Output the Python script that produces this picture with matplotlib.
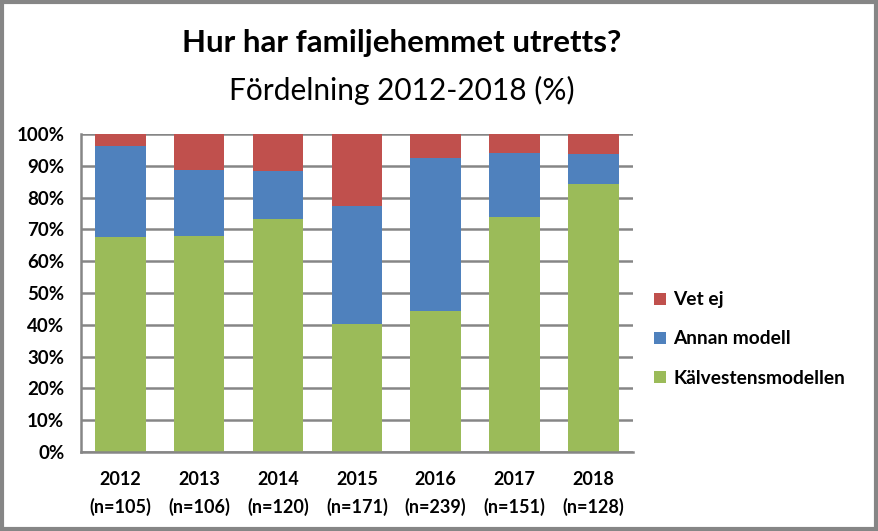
import matplotlib
matplotlib.use("Agg")
import matplotlib.pyplot as plt
from matplotlib.patches import Rectangle
import numpy as np

years = ["2012", "2013", "2014", "2015", "2016", "2017", "2018"]
n_labels = ["(n=105)", "(n=106)", "(n=120)", "(n=171)", "(n=239)", "(n=151)", "(n=128)"]
kalvesten = [67.6, 67.9, 73.2, 40.2, 44.3, 73.9, 84.4]
annan = [28.7, 20.8, 15.2, 37.3, 48.1, 20.1, 9.3]
vetej = [3.7, 11.3, 11.6, 22.5, 7.6, 6.0, 6.3]
yticks = [0, 10, 20, 30, 40, 50, 60, 70, 80, 90, 100]

plt.rcParams['font.family'] = ['Lato', 'DejaVu Sans']

fig = plt.figure(figsize=(8.79, 5.31), dpi=100)
ax = fig.add_axes([81/879, 1-452/531, (632.7-81)/879, (452-134)/531])

x = np.arange(len(years))
green = "#9BBB59"; blue = "#4F81BD"; red = "#C0504D"
w = 0.64
b1 = ax.bar(x, kalvesten, w, color=green, label="Kälvestensmodellen", zorder=2)
b2 = ax.bar(x, annan, w, bottom=kalvesten, color=blue, label="Annan modell", zorder=2)
bottom2 = [a + b for a, b in zip(kalvesten, annan)]
b3 = ax.bar(x, vetej, w, bottom=bottom2, color=red, label="Vet ej", zorder=2)

ax.set_xlim(-0.5, len(years) - 0.5)
ax.set_ylim(0, 100)
ax.set_yticks(yticks)
ax.set_yticklabels([f"{t}%" for t in yticks], fontsize=13.5, fontweight='bold')
ax.yaxis.grid(True, color="#868686", linewidth=1.8, zorder=0)
ax.set_axisbelow(True)
for s in ["top", "right"]:
    ax.spines[s].set_visible(False)
for s in ["left", "bottom"]:
    ax.spines[s].set_color("#868686")
    ax.spines[s].set_linewidth(1.8)
ax.tick_params(axis='y', length=0, pad=12)
ax.set_xticks(x)
ax.set_xticklabels([f"{y}\n{n}" for y, n in zip(years, n_labels)], fontsize=13,
                   fontweight='bold', linespacing=1.6)
ax.tick_params(axis='x', length=0, pad=14)

fig.text(402/879, 1-43/531, "Hur har familjehemmet utretts?", ha='center', va='center',
         fontsize=22.5, fontweight='bold')
fig.text(402/879, 1-90/531, "Fördelning 2012-2018 (%)", ha='center', va='center',
         fontsize=21.5)

leg = ax.legend(handles=[b3, b2, b1], loc='center left', bbox_to_anchor=(637/879, 1-339/531),
                bbox_transform=fig.transFigure, frameon=False,
                prop={'weight': 'bold', 'size': 13.8}, handlelength=0.6, handleheight=0.6,
                handletextpad=0.4, labelspacing=1.15)

fig.patches.append(Rectangle((0.002, 0.004), 0.995, 0.992, transform=fig.transFigure,
                             fill=False, edgecolor="#868686", linewidth=3))

fig.savefig("out.png", dpi=100)
